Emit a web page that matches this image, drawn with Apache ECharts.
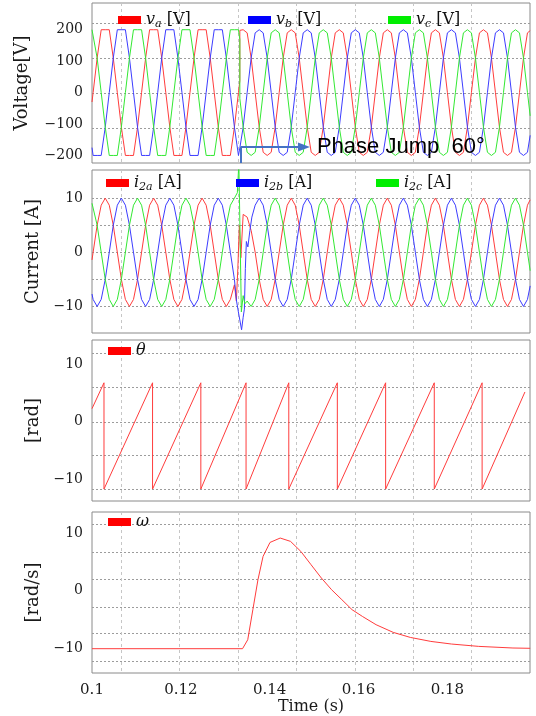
<!DOCTYPE html>
<html><head><meta charset="utf-8">
<script src="https://cdn.jsdelivr.net/npm/echarts@6/dist/echarts.min.js"></script>
<style>html,body{margin:0;padding:0;background:#fff}#c{width:536px;height:716px}</style>
</head><body><div id="c"></div>
<script>
// ---------- axis ticks / gridlines (data units) ----------
const xLabels = [0.1, 0.12, 0.14, 0.16, 0.18];
const xGrid = [0.10658, 0.11973, 0.13288, 0.14603, 0.15918, 0.17233, 0.18548];
const vLabels = [-200, -100, 0, 100, 200];
const vGrid = [-112.8, -1.4, 109.9, 221.3];
const iLabels = [-10, 0, 10];
const iGrid = [-10, -5, 0, 5, 10];
const thLabels = [-10, 0, 10];
const thGrid = [-11.73, -5.8, 0, 6, 11.93];
const wLabels = [-10, 0, 10];
const wGrid = [-12.1, -7.4, -2.75, 1.95, 6.75, 11.5];

// ---------- time bases ----------
const tPre = [0.1, 0.10025, 0.10116, 0.10207, 0.10298, 0.10389, 0.10479, 0.10570, 0.10661, 0.10752, 0.10843, 0.10934,
  0.11025, 0.11116, 0.11207, 0.11297, 0.11388, 0.11479, 0.11570, 0.11661, 0.11752, 0.11843, 0.11934, 0.12025,
  0.12115, 0.12206, 0.12297, 0.12388, 0.12479, 0.12570, 0.12661, 0.12752, 0.12843, 0.12934, 0.13024, 0.13115,
  0.13206, 0.13297, 0.13328];
const tPost = [0.13328, 0.13403, 0.13493, 0.13583, 0.13673, 0.13764, 0.13854, 0.13944, 0.14034, 0.14124, 0.14214, 0.14304, 0.14395,
  0.14485, 0.14575, 0.14665, 0.14755, 0.14845, 0.14935, 0.15026, 0.15116, 0.15206, 0.15296, 0.15386, 0.15476,
  0.15567, 0.15657, 0.15747, 0.15837, 0.15927, 0.16017, 0.16107, 0.16197, 0.16288, 0.16378, 0.16468, 0.16558,
  0.16648, 0.16738, 0.16829, 0.16919, 0.17009, 0.17099, 0.17189, 0.17279, 0.17369, 0.17460, 0.17550, 0.17640,
  0.17730, 0.17820, 0.17910, 0.18001, 0.18091, 0.18181, 0.18271, 0.18361, 0.18451, 0.18541, 0.18632, 0.18722,
  0.18812, 0.18902, 0.18992, 0.19082, 0.19172, 0.19263, 0.19353, 0.19443, 0.19533, 0.19623, 0.19713, 0.19803,
  0.19864];

// ---------- voltages [V] ----------
const vaPre = [-30, 0,110,200,200,200,110,0,-110,-200,-200,-200,-110, 0,110,200,200,200,110,0,-110,-200,-200,-200,-110,
  0,110,200,200,200,110,0,-110,-200,-200,-200,-110, 0, 38];
const vbPre = [-175, -200,-200,-200,-110,0,110,200,200,200,110,0,-110, -200,-200,-200,-110,0,110,200,200,200,110,0,-110,
  -200,-200,-200,-110,0,110,200,200,200,110,0,-110, -200, -200];
const vcPre = [200, 200,110,0,-110,-200,-200,-200,-110,0,110,200,200, 200,110,0,-110,-200,-200,-200,-110,0,110,200,200,
  200,110,0,-110,-200,-200,-200,-110,0,110,200,200, 200, 169];
const vaPost = [198,
  200,190,110,0,-110,-190,-200,-190,-110,0,110,190, 200,190,110,0,-110,-190,-200,-190,-110,0,110,190,
  200,190,110,0,-110,-190,-200,-190,-110,0,110,190, 200,190,110,0,-110,-190,-200,-190,-110,0,110,190,
  200,190,110,0,-110,-190,-200,-190,-110,0,110,190, 200,190,110,0,-110,-190,-200,-190,-110,0,110,190, 197];
const vbPost = [-176,
  -110,0,110,190,200,190,110,0,-110,-190,-200,-190, -110,0,110,190,200,190,110,0,-110,-190,-200,-190,
  -110,0,110,190,200,190,110,0,-110,-190,-200,-190, -110,0,110,190,200,190,110,0,-110,-190,-200,-190,
  -110,0,110,190,200,190,110,0,-110,-190,-200,-190, -110,0,110,190,200,190,110,0,-110,-190,-200,-190, -136];
const vcPost = [-19,
  -110,-190,-200,-190,-110,0,110,190,200,190,110,0, -110,-190,-200,-190,-110,0,110,190,200,190,110,0,
  -110,-190,-200,-190,-110,0,110,190,200,190,110,0, -110,-190,-200,-190,-110,0,110,190,200,190,110,0,
  -110,-190,-200,-190,-110,0,110,190,200,190,110,0, -110,-190,-200,-190,-110,0,110,190,200,190,110,0, -74];

// ---------- currents [A] ----------
const iaPre = [-1.4, 0,5,8.7,10,8.7,5,0,-5,-8.7,-10,-8.7,-5, 0,5,8.7,10,8.7,5,0,-5,-8.7,-10,-8.7,-5,
  0,5,8.7,10,8.7,5,0,-5,-8.7,-10,-8.7];
const iaJump = [[0.13206,-6],[0.13250,-9],[0.13283,-3],[0.13317,5],[0.13351,-1],[0.13403,7],[0.13493,6.5],[0.13583,4]];
const iaPost = [0,-5,-8.7,-10,-8.7,-5,0,5,8.7,
  10,8.7,5,0,-5,-8.7,-10,-8.7,-5,0,5,8.7, 10,8.7,5,0,-5,-8.7,-10,-8.7,-5,0,5,8.7,
  10,8.7,5,0,-5,-8.7,-10,-8.7,-5,0,5,8.7, 10,8.7,5,0,-5,-8.7,-10,-8.7,-5,0,5,8.7,
  10,8.7,5,0,-5,-8.7,-10,-8.7,-5,0,5,8.7, 9.7];
const ibPre = [-7.7, -8.7,-10,-8.7,-5,0,5,8.7,10,8.7,5,0,-5, -8.7,-10,-8.7,-5,0,5,8.7,10,8.7,5,0,-5,
  -8.7,-10,-8.7,-5,0,5,8.7,10,8.7,5,0];
const ibJump = [[0.13206,-5],[0.13254,-9],[0.13295,-11],[0.13328,-12.5],[0.13367,-14.3],[0.13403,-12],[0.13430,-10.5],
  [0.13452,-3],[0.13475,2],[0.13509,1],[0.13554,4],[0.13599,6.5]];
const ibPost = [8.7,10,8.7,5,0,-5,-8.7,-10,-8.7,
  -5,0,5,8.7,10,8.7,5,0,-5,-8.7,-10,-8.7, -5,0,5,8.7,10,8.7,5,0,-5,-8.7,-10,-8.7,
  -5,0,5,8.7,10,8.7,5,0,-5,-8.7,-10,-8.7, -5,0,5,8.7,10,8.7,5,0,-5,-8.7,-10,-8.7,
  -5,0,5,8.7,10,8.7,5,0,-5,-8.7,-10,-8.7, -6.2];
const icPre = [9.05, 8.7,5,0,-5,-8.7,-10,-8.7,-5,0,5,8.7,10, 8.7,5,0,-5,-8.7,-10,-8.7,-5,0,5,8.7,10,
  8.7,5,0,-5,-8.7,-10,-8.7,-5,0,5,8.7];
const icJump = [[0.13206,10],[0.13272,11],[0.13306,16.5],[0.13333,16.5],[0.13362,-11],[0.13403,-8],[0.13441,-9.5],[0.13493,-9]];
const icPost = [-10,-8.7,-5,0,5,8.7,10,8.7,5,0,
  -5,-8.7,-10,-8.7,-5,0,5,8.7,10,8.7,5,0, -5,-8.7,-10,-8.7,-5,0,5,8.7,10,8.7,5,0,
  -5,-8.7,-10,-8.7,-5,0,5,8.7,10,8.7,5,0, -5,-8.7,-10,-8.7,-5,0,5,8.7,10,8.7,5,0,
  -5,-8.7,-10,-8.7,-5,0,5,8.7,10,8.7,5,0, -3.4];

// ---------- PLL angle theta [rad] and omega [rad/s] ----------
const theta = [[0.1,2.3],[0.10270,6.8],[0.10270,-11.7],[0.11363,6.8],[0.11363,-11.7],[0.12450,6.8],[0.12450,-11.7],
  [0.13468,6.8],[0.13468,-11.7],[0.14430,6.8],[0.14430,-11.7],[0.15523,6.8],[0.15523,-11.7],[0.16610,6.8],[0.16610,-11.7],
  [0.17705,6.8],[0.17705,-11.7],[0.18782,6.8],[0.18782,-11.7],[0.19746,5.2]];
const omega = [[0.1,-10],[0.13389,-10],[0.13506,-8.45],[0.13621,-3.26],[0.13736,1.93],[0.13851,5.96],[0.14007,8.37],
  [0.14237,9.13],[0.14469,8.55],[0.14701,6.82],[0.14931,4.52],[0.15163,2.22],[0.15393,0.2],[0.15625,-1.53],[0.15855,-3.26],
  [0.16087,-4.42],[0.16395,-5.85],[0.16781,-7.18],[0.17166,-8.05],[0.17628,-8.74],[0.1809,-9.19],[0.18705,-9.6],
  [0.19476,-9.88],[0.19864,-9.93]];

// ---------- annotation ----------
const jumpT = 0.13344, arrowEndT = 0.14771, arrowV = -173.2, frameBottomV = -224;
const jumpLabel = 'Phase Jump  60°';

// ---------- build ----------
const zip = (t, v) => v.map((y, k) => [t[k], y]);
const va = zip(tPre, vaPre).concat(zip(tPost, vaPost));
const vb = zip(tPre, vbPre).concat(zip(tPost, vbPost));
const vc = zip(tPre, vcPre).concat(zip(tPost, vcPost));
const ia = zip(tPre.slice(0, 36), iaPre).concat(iaJump, zip(tPost.slice(4), iaPost));
const ib = zip(tPre.slice(0, 36), ibPre).concat(ibJump, zip(tPost.slice(4), ibPost));
const ic = zip(tPre.slice(0, 36), icPre).concat(icJump, zip(tPost.slice(3), icPost));

const SERIF = 'DejaVu Serif';
const TXT = '#1a1a1a';
const RED = '#ff0000', BLUE = '#0000ff', GREEN = '#00ee00';
const RED_L = '#ff3c3c', BLUE_L = '#3c3cff', GREEN_L = '#33e833';

const grids = [
  {left: 92, right: 6, top: 3, height: 160},
  {left: 92, right: 6, top: 170, height: 163},
  {left: 92, right: 6, top: 340, height: 161},
  {left: 92, right: 6, top: 512, height: 161}
].map(g => Object.assign(g, {show: true, borderColor: '#8a8a8a', borderWidth: 1, backgroundColor: '#fff'}));

function xAx(i) {
  const bottom = i === 3;
  return {
    type: 'value', gridIndex: i, min: 0.1, max: 0.1986,
    axisLine: {show: false},
    axisTick: {show: false, customValues: xGrid},
    splitLine: {show: true, lineStyle: {color: '#c6c6c6', type: [3, 3], width: 1}},
    axisLabel: bottom ? {customValues: xLabels, margin: 10, fontFamily: SERIF, fontSize: 15, color: TXT,
      formatter: v => String(Number(v.toFixed(2)))} : {show: false},
    name: bottom ? 'Time (s)' : '', nameLocation: 'middle', nameGap: 25,
    nameTextStyle: {fontFamily: SERIF, fontSize: 16, color: TXT}
  };
}
function yAx(i, min, max, grid, labels, name, gap) {
  return {
    type: 'value', gridIndex: i, min: min, max: max,
    name: name, nameLocation: 'middle', nameGap: gap,
    nameTextStyle: {fontFamily: SERIF, fontSize: 18, color: TXT},
    axisLine: {show: false},
    axisTick: {show: false, customValues: grid},
    axisLabel: {customValues: labels, margin: 9, fontFamily: SERIF, fontSize: 14, color: TXT,
      formatter: v => (v < 0 ? '\u2212' : '') + Math.abs(v)},
    splitLine: {show: true, lineStyle: {color: '#9c9c9c', type: [2, 2], width: 1}}
  };
}

function line(name, data, xi, color, lineColor, extra) {
  return Object.assign({
    type: 'line', name: name, data: data, xAxisIndex: xi, yAxisIndex: xi,
    showSymbol: false, symbol: 'none', animation: false,
    lineStyle: {color: lineColor, width: 1}, itemStyle: {color: color}
  }, extra || {});
}

const legendText = {
  va: '{v|v}{s|a}{u| [V]}', vb: '{v|v}{s|b}{u| [V]}', vc: '{v|v}{s|c}{u| [V]}',
  i2a: '{v|i}{s|2a}{u| [A]}', i2b: '{v|i}{s|2b}{u| [A]}', i2c: '{v|i}{s|2c}{u| [A]}',
  theta: '{v|θ}', omega: '{v|ω}'
};
const rich = {
  v: {fontFamily: SERIF, fontStyle: 'italic', fontSize: 16, color: '#111', lineHeight: 20},
  s: {fontFamily: SERIF, fontStyle: 'italic', fontSize: 11, color: '#111', lineHeight: 12, verticalAlign: 'bottom'},
  u: {fontFamily: SERIF, fontSize: 16, color: '#111', lineHeight: 20}
};
function leg(name, left, top) {
  return {data: [name], left: left, top: top, icon: 'rect', itemWidth: 23, itemHeight: 8, itemGap: 0, padding: 0,
    selectedMode: false, formatter: n => legendText[n], textStyle: {fontFamily: SERIF, fontSize: 16, color: '#111', rich: rich}};
}

const option = {
  backgroundColor: '#fff',
  animation: false,
  grid: grids,
  xAxis: [0, 1, 2, 3].map(xAx),
  yAxis: [
    yAx(0, -224, 285, vGrid, vLabels, 'Voltage[V]', 61),
    yAx(1, -14.9, 15.2, iGrid, iLabels, 'Current [A]', 48),
    yAx(2, -13.78, 14.25, thGrid, thLabels, '[rad]', 48),
    yAx(3, -14.2, 13.63, wGrid, wLabels, '[rad/s]', 48)
  ],
  legend: [
    leg('va', 118, 12), leg('vb', 248, 12), leg('vc', 388, 12),
    leg('i2a', 106, 175), leg('i2b', 236, 175), leg('i2c', 376, 175),
    leg('theta', 108, 343), leg('omega', 108, 514)
  ],
  series: [
    line('va', va, 0, RED, RED_L, {markLine: {
      silent: true, animation: false, symbol: ['none', 'triangle'], symbolSize: [9, 12],
      lineStyle: {color: '#4472c4', width: 2, type: 'solid'}, itemStyle: {color: '#4472c4'},
      label: {show: true, position: 'end', distance: 13, formatter: jumpLabel,
        fontFamily: 'Liberation Sans', fontSize: 22, color: '#000'},
      data: [[{coord: [jumpT, arrowV]}, {coord: [arrowEndT, arrowV]}]]
    }}),
    line('vb', vb, 0, BLUE, BLUE_L, {markLine: {
      silent: true, animation: false, symbol: ['none', 'none'],
      lineStyle: {color: '#4472c4', width: 2, type: 'solid'}, label: {show: false},
      data: [[{coord: [jumpT, frameBottomV]}, {coord: [jumpT, arrowV]}]]
    }}),
    line('vc', vc, 0, GREEN, GREEN_L),
    line('i2a', ia, 1, RED, RED_L),
    line('i2b', ib, 1, BLUE, BLUE_L),
    line('i2c', ic, 1, GREEN, GREEN_L),
    line('theta', theta, 2, RED, RED_L),
    line('omega', omega, 3, RED, RED_L)
  ]
};

const chart = echarts.init(document.getElementById('c'), null, {renderer: 'canvas', width: 536, height: 716});
chart.setOption(option);
</script>
</body></html>
